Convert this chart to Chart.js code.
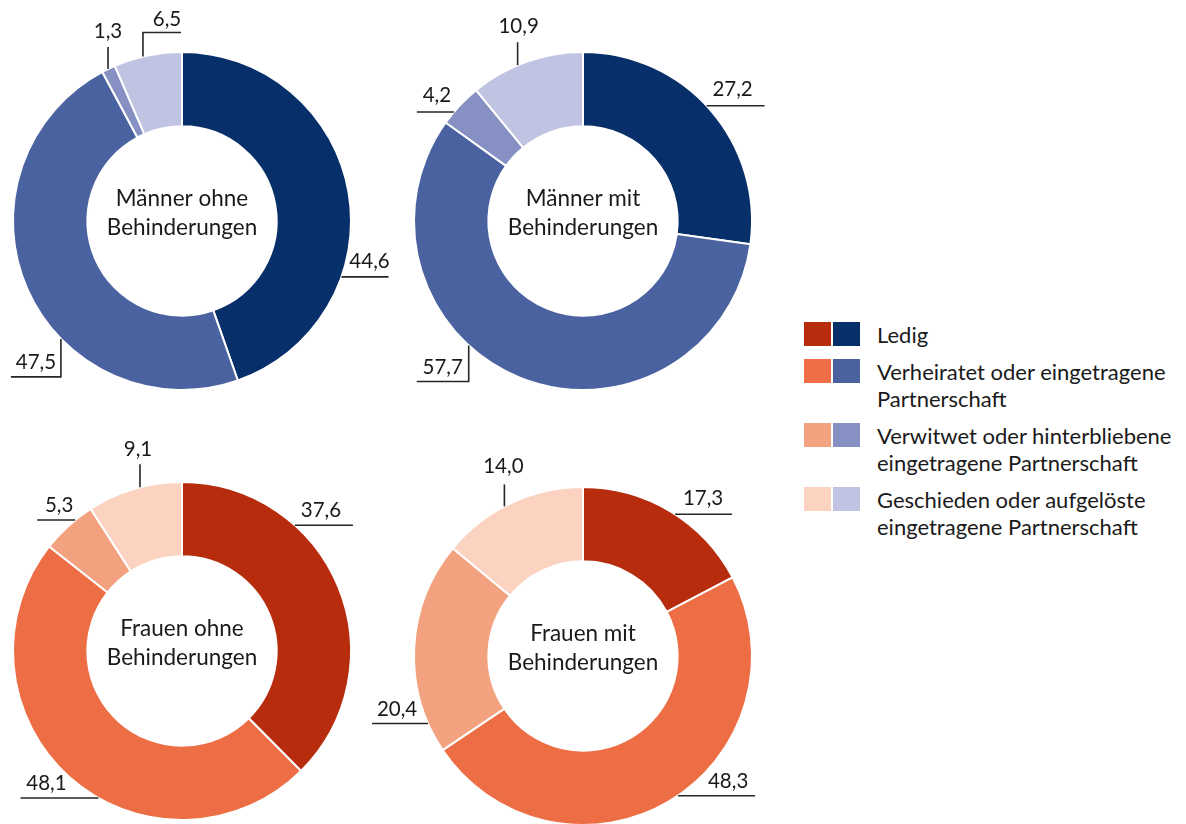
<!DOCTYPE html>
<html lang="de">
<head>
<meta charset="utf-8">
<script src="https://cdn.jsdelivr.net/npm/chart.js@4.4.1/dist/chart.umd.min.js"></script>
<style>
  html, body { margin: 0; padding: 0; background: #fff; overflow: hidden; }
  body { width: 1186px; height: 824px; position: relative; font-family: Lato, sans-serif; color: #1a1a1a; }
  .donut { position: absolute; width: 440px; height: 440px; }
  #legend { position: absolute; left: 804px; top: 322px; font-size: 22px; line-height: 27px; }
  .row { display: flex; align-items: flex-start; margin-bottom: 11px; }
  .sw { width: 27px; height: 24px; margin-right: 2px; flex: none; }
  .sw + .sw { margin-right: 17px; }
  .txt { margin-top: -1px; white-space: nowrap; }
</style>
</head>
<body>
<canvas id="c1" class="donut" style="left:-38px; top:1px"></canvas>
<canvas id="c2" class="donut" style="left:363px; top:1px"></canvas>
<canvas id="c3" class="donut" style="left:-38px; top:431px"></canvas>
<canvas id="c4" class="donut" style="left:363px; top:436px"></canvas>
<div id="legend"></div>
<script>
// categories (legend lines) and values per group, in % (clockwise from top)
const categories = [
  ["Ledig"],
  ["Verheiratet oder eingetragene", "Partnerschaft"],
  ["Verwitwet oder hinterbliebene", "eingetragene Partnerschaft"],
  ["Geschieden oder aufgelöste", "eingetragene Partnerschaft"]
];
const maennerOhne = [44.6, 47.5, 1.3, 6.5];
const maennerMit = [27.2, 57.7, 4.2, 10.9];
const frauenOhne = [37.6, 48.1, 5.3, 9.1];
const frauenMit = [17.3, 48.3, 20.4, 14.0];

const blues = ["#07306a", "#4a62a0", "#8790c3", "#c0c3e1"];
const reds = ["#b72c0c", "#ed6e45", "#f3a27f", "#fbd3c0"];

// label leaders: at = position along the slice, path/text relative to the point on the rim
const layout1 = [
  { at: 0.68, path: [[0, 0], [47, 0]], text: [28, -9] },
  { at: 0.38, path: [[0, 0], [0, 38], [-50, 38]], text: [-25, 30] },
  { at: 0.46, path: [[0, 0], [0, -22]], text: [0, -31] },
  { at: 0.43, path: [[0, 0], [0, -24], [38, -24]], text: [24, -31] }
];
const layout2 = [
  { at: 0.48, path: [[0, 0], [58, 0]], text: [26, -10] },
  { at: 0.60, path: [[0, 0], [0, 36], [-52, 36]], text: [-26, 29] },
  { at: 0.30, path: [[0, 0], [-37, 0]], text: [-17, -10] },
  { at: 0.42, path: [[0, 0], [0, -23]], text: [1, -32] }
];
const layout3 = [
  { at: 0.31, path: [[0, 0], [58, 0]], text: [26, -8] },
  { at: 0.43, path: [[0, 0], [-78, 0]], text: [-52, -8] },
  { at: 0.66, path: [[0, 0], [-38, 0]], text: [-16, -8] },
  { at: 0.56, path: [[0, 0], [0, -23]], text: [-2, -31] }
];
const layout4 = [
  { at: 0.53, path: [[0, 0], [57, 0]], text: [28, -9] },
  { at: 0.48, path: [[0, 0], [77, 0]], text: [50, -8] },
  { at: 0.14, path: [[0, 0], [-56, 0]], text: [-31, -8] },
  { at: 0.45, path: [[0, 0], [0, -22]], text: [-1, -33] }
];

const LABEL_FONT = "20.5px Lato, sans-serif";
const TITLE_FONT = "22.5px Lato, sans-serif";

const leaderPlugin = {
  id: "leaders",
  afterDatasetsDraw(chart, args, opts) {
    const ctx = chart.ctx;
    const meta = chart.getDatasetMeta(0);
    const values = chart.data.datasets[0].data;
    ctx.save();
    ctx.strokeStyle = "#262626";
    ctx.lineWidth = 1.6;
    ctx.fillStyle = "#1a1a1a";
    ctx.font = LABEL_FONT;
    ctx.textAlign = "center";
    ctx.textBaseline = "alphabetic";
    let cx = 0, cy = 0;
    meta.data.forEach((arc, i) => {
      const p = arc.getProps(["x", "y", "startAngle", "endAngle", "outerRadius"], true);
      cx = p.x; cy = p.y;
      const lay = opts.layout[i];
      const a = p.startAngle + lay.at * (p.endAngle - p.startAngle);
      const ax = p.x + Math.cos(a) * p.outerRadius;
      const ay = p.y + Math.sin(a) * p.outerRadius;
      ctx.beginPath();
      lay.path.forEach(([dx, dy], k) => {
        if (k === 0) ctx.moveTo(ax + dx, ay + dy); else ctx.lineTo(ax + dx, ay + dy);
      });
      ctx.stroke();
      ctx.fillText(values[i].toFixed(1).replace(".", ","), ax + lay.text[0], ay + lay.text[1]);
    });
    // group name in the hole
    ctx.font = TITLE_FONT;
    ctx.fillText(opts.title[0], cx, cy - 15);
    ctx.fillText(opts.title[1], cx, cy + 14);
    ctx.restore();
  }
};

function donut(id, values, colors, title, layout) {
  new Chart(document.getElementById(id), {
    type: "doughnut",
    data: {
      labels: categories.map(c => c.join(" ")),
      datasets: [{
        data: values,
        backgroundColor: colors,
        borderColor: "#ffffff",
        borderWidth: 2
      }]
    },
    options: {
      responsive: false,
      animation: false,
      cutout: "56%",
      layout: { padding: 50 },
      plugins: {
        legend: { display: false },
        tooltip: { enabled: false },
        leaders: { layout: layout, title: title }
      }
    },
    plugins: [leaderPlugin]
  });
}

["c1", "c2", "c3", "c4"].forEach(id => {
  const c = document.getElementById(id);
  c.width = 440; c.height = 440;
});

donut("c1", maennerOhne, blues, ["Männer ohne", "Behinderungen"], layout1);
donut("c2", maennerMit, blues, ["Männer mit", "Behinderungen"], layout2);
donut("c3", frauenOhne, reds, ["Frauen ohne", "Behinderungen"], layout3);
donut("c4", frauenMit, reds, ["Frauen mit", "Behinderungen"], layout4);

// shared legend: one red and one blue swatch per category
const legend = document.getElementById("legend");
categories.forEach((lines, i) => {
  const row = document.createElement("div");
  row.className = "row";
  row.innerHTML = `<div class="sw" style="background:${reds[i]}"></div>` +
    `<div class="sw" style="background:${blues[i]}"></div>` +
    `<div class="txt">${lines.join("<br>")}</div>`;
  legend.appendChild(row);
});
</script>
</body>
</html>
